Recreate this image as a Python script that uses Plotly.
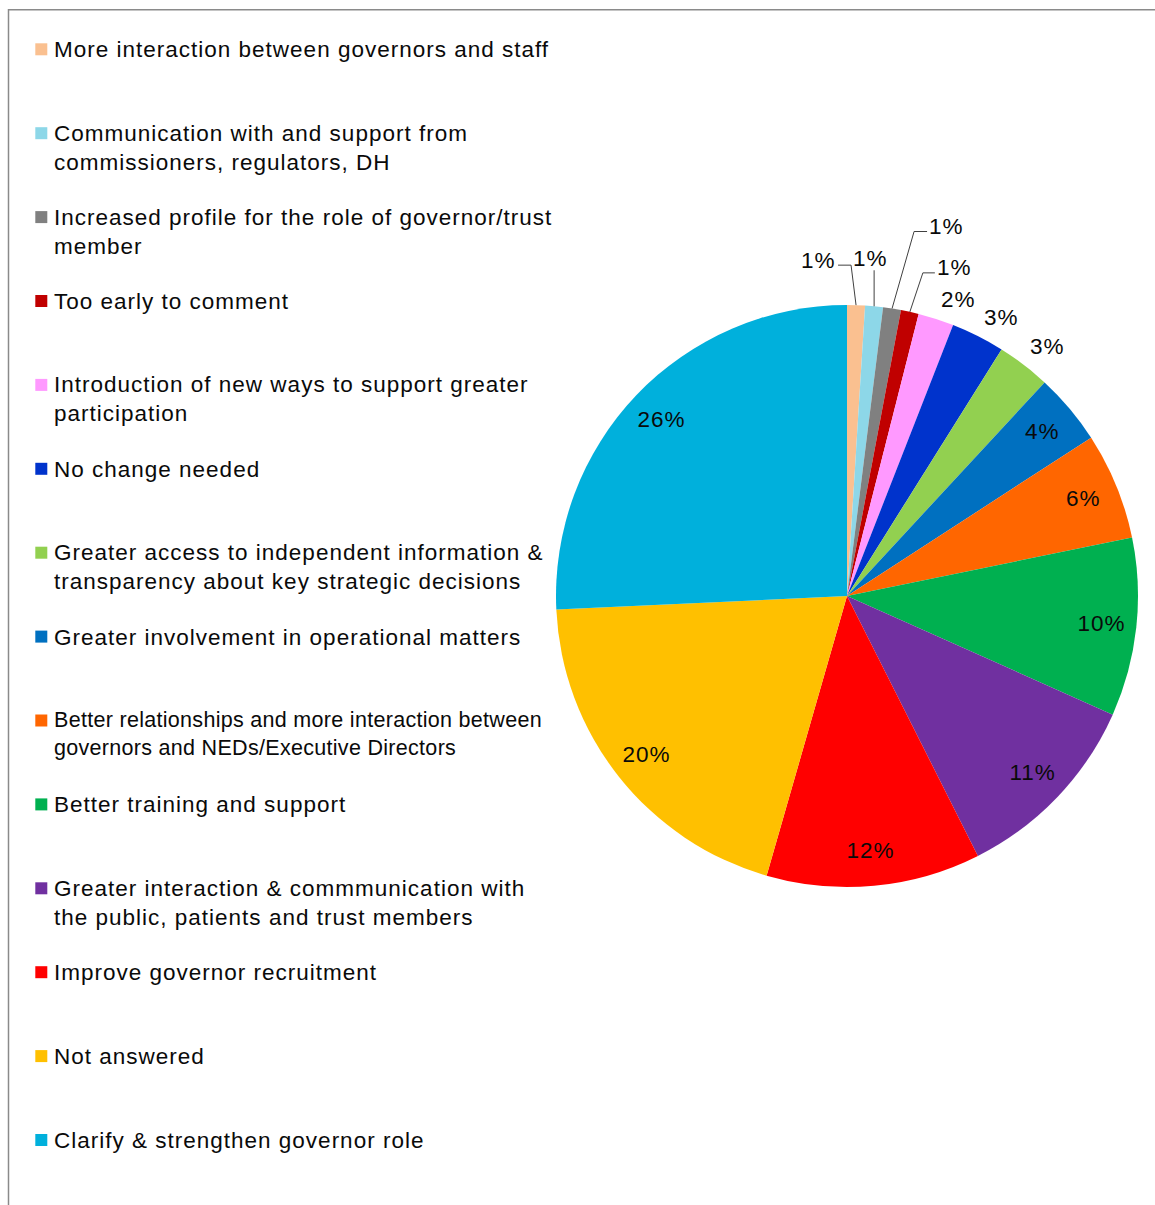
import math
import plotly.graph_objects as go

# Responses, in clockwise order starting at 12 o'clock
categories = [
    "More interaction between governors and staff",
    "Communication with and support from<br>commissioners, regulators, DH",
    "Increased profile for the role of governor/trust<br>member",
    "Too early to comment",
    "Introduction of new ways to support greater<br>participation",
    "No change needed",
    "Greater access to independent information &<br>transparency about key strategic decisions",
    "Greater involvement in operational matters",
    "Better relationships and more interaction between<br>governors and NEDs/Executive Directors",
    "Better training and support",
    "Greater interaction & commmunication with<br>the public, patients and trust members",
    "Improve governor recruitment",
    "Not answered",
    "Clarify & strengthen governor role",
]
shares = [1, 1, 1, 1, 2, 3, 3, 4, 6, 10, 11, 12, 20, 26]
colors = [
    "#FAC090", "#8DD7E8", "#808080", "#C00000", "#FF99FF", "#0033CC", "#92D050",
    "#0070C0", "#FF6600", "#00B050", "#7030A0", "#FF0000", "#FFC000", "#00B0DC",
]

# ---- page geometry (pixels) ----
W, H = 1155, 1205
CX, CY, R = 847, 596, 291
FONT = "Liberation Sans, Arial, sans-serif"
TXT = "#0A0A0A"

# how each percentage label is placed: inside the slice, just outside, or on a leader line
label_mode = ["lead", "lead", "lead", "lead", "out", "out", "out",
              "in", "in", "in", "in", "in", "in", "in"]
# leader: (elbow dx, elbow dy, horizontal run) relative to the slice's rim point
leaders = {0: (-5, -40, -13), 1: (0, -36, 0), 2: (22, -77, 13), 3: (13, -39, 12)}


def px(x):
    return x / W


def py(y):
    return 1 - y / H


fig = go.Figure()
fig.add_trace(go.Pie(
    labels=categories,
    values=shares,
    marker=dict(colors=colors, line=dict(width=0)),
    sort=False,
    direction="clockwise",
    rotation=0,
    textinfo="none",
    hoverinfo="label+percent",
    showlegend=False,
    domain=dict(x=[px(CX - R), px(CX + R)], y=[py(CY + R), py(CY - R)]),
))

annotations = []
shapes = []

# ---- percentage labels ----
total = sum(shares)
cum = 0
for i, v in enumerate(shares):
    theta = math.radians((cum + v / 2) / total * 360)
    cum += v
    ux, uy = math.sin(theta), -math.cos(theta)
    label = f"{v / total * 100:.0f}%"
    base = dict(text=label, showarrow=False, xref="paper", yref="paper",
                font=dict(family=FONT, size=22.5, color=TXT), borderpad=0)
    mode = label_mode[i]
    if mode == "in":
        r = R * 0.88
        annotations.append(dict(base, x=px(CX + r * ux), y=py(CY + r * uy),
                                xanchor="center", yanchor="middle"))
    elif mode == "out":
        r = R + 6
        annotations.append(dict(base, x=px(CX + r * ux + 3), y=py(CY + r * uy),
                                xanchor="left", yanchor="bottom"))
    else:
        rx, ry = CX + R * ux, CY + R * uy
        ex, ey, run = leaders[i]
        x1, y1 = rx + ex, ry + ey
        x2 = x1 + run
        path = f"M {px(rx)},{py(ry)} L {px(x1)},{py(y1)} L {px(x2)},{py(y1)}"
        shapes.append(dict(type="path", path=path, xref="paper", yref="paper",
                           line=dict(color="#404040", width=1)))
        if run < 0:
            annotations.append(dict(base, x=px(x2 - 2), y=py(y1 - 5),
                                    xanchor="right", yanchor="middle"))
        elif run > 0:
            annotations.append(dict(base, x=px(x2 + 2), y=py(y1 - 5),
                                    xanchor="left", yanchor="middle"))
        else:
            annotations.append(dict(base, x=px(x1 - 4), y=py(y1 + 2),
                                    xanchor="center", yanchor="bottom"))

# ---- legend column ----
for i, name in enumerate(categories):
    y_first = 49.8 + 83.9 * i
    fs = 21.5 if i == 8 else 22.5
    nlines = name.count("<br>") + 1
    yc = y_first + (nlines - 1) * fs * 1.25 / 2
    annotations.append(dict(
        text=name, showarrow=False, xref="paper", yref="paper",
        x=px(52.5), y=py(yc), xanchor="left", yanchor="middle", align="left",
        font=dict(family=FONT, size=fs, color=TXT), borderpad=0,
    ))
    shapes.append(dict(
        type="rect", xref="paper", yref="paper",
        x0=px(35.3), x1=px(47.3), y0=py(y_first - 6.5), y1=py(y_first + 5.5),
        fillcolor=colors[i], line=dict(width=0),
    ))

# ---- frame (top and left edges) ----
shapes.append(dict(type="rect", xref="paper", yref="paper",
                   x0=px(8.5), x1=px(W + 20), y0=py(H + 20), y1=py(9.8),
                   line=dict(color="#8A8A8A", width=1.5), fillcolor="rgba(0,0,0,0)"))

fig.update_layout(
    width=W, height=H,
    margin=dict(l=0, r=0, t=0, b=0),
    paper_bgcolor="white", plot_bgcolor="white",
    annotations=annotations, shapes=shapes,
    font=dict(family=FONT, color=TXT),
)

# Excel-like loose letter spacing for the text
spacing_js = """
var gd = document.getElementById('{plot_id}');
gd.querySelectorAll('text.annotation-text').forEach(function(t){
  var fs = parseFloat(t.style.fontSize);
  t.style.letterSpacing = (fs < 22 ? '0.3px' : '1.0px');
});
"""

fig.write_html("out.html", config={"displayModeBar": False}, post_script=spacing_js)
